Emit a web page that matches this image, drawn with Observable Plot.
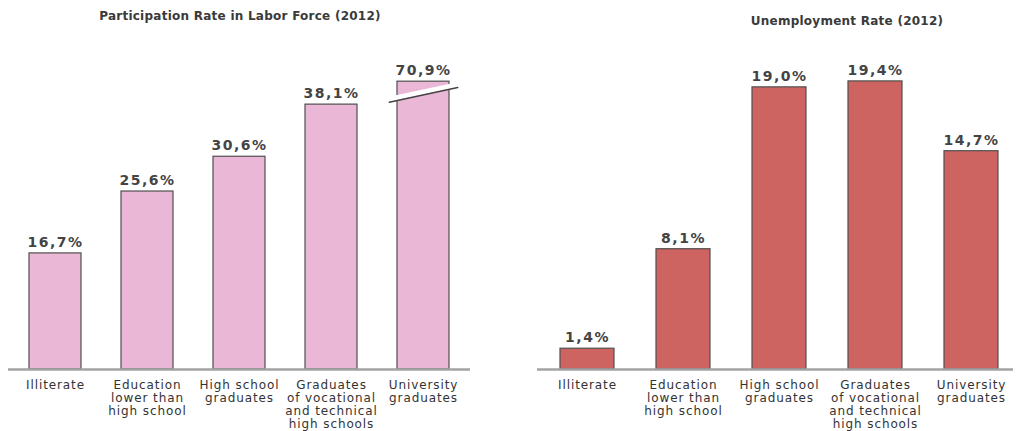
<!DOCTYPE html>
<html>
<head>
<meta charset="utf-8">
<script src="https://cdn.jsdelivr.net/npm/d3@7"></script>
<script src="https://cdn.jsdelivr.net/npm/@observablehq/plot@0.6"></script>
<style>
  body { margin: 0; background: #fff; }
  #wrap { position: relative; width: 1018px; height: 431px; overflow: hidden; }
  .title { position: absolute; text-align: center; font-family: "DejaVu Sans", sans-serif; font-size: 12px; letter-spacing: 0.25px; font-weight: bold; color: #3a3a3a; white-space: nowrap; }
  .chart { position: absolute; top: 30px; }
  .chart g[aria-label="text"] text { letter-spacing: 1.5px; }
  .chart g[aria-label="x-axis tick label"] text { letter-spacing: 0.9px; }
</style>
</head>
<body>
<div id="wrap">
  <div class="title" id="t1" style="left:0px;width:480px;top:9px;">Participation Rate in Labor Force (2012)</div>
  <div class="chart" id="c1" style="left:0px;"></div>
  <div class="title" id="t2" style="left:747px;width:200px;top:14px;">Unemployment Rate (2012)</div>
  <div class="chart" id="c2" style="left:500px;"></div>
</div>
<script>
// ---- data ----
const categories = [
  "Illiterate",
  "Education\nlower than\nhigh school",
  "High school\ngraduates",
  "Graduates\nof vocational\nand technical\nhigh schools",
  "University\ngraduates"
];
const participation = [16.7, 25.6, 30.6, 38.1, 70.9];
const unemployment = [1.4, 8.1, 19.0, 19.4, 14.7];
// the participation axis is broken: bars above this value are cut off
const participationBreak = 41.4;
const participationBreakLine = 39.5;

const fmt = v => v.toFixed(1).replace(".", ",") + "%";

function lineShape() {
  return { draw(context, l) { context.moveTo(0, 0); context.lineTo(0, -l); } };
}

function makeChart({values, cap, breakAt, color, width, marginLeft, marginRight, marginTop, yMax, paddingInner, paddingOuter, align}) {
  const rows = categories.map((c, i) => ({
    category: c,
    value: values[i],
    shown: cap != null ? Math.min(values[i], cap) : values[i]
  }));
  const broken = cap != null ? rows.filter(d => d.value > cap) : [];
  const marks = [
    Plot.barY(rows, {x: "category", y: "shown", fill: color, stroke: "#4f4f4f", strokeWidth: 1.2}),
    Plot.ruleY([0], {stroke: "#a3a3a3", strokeWidth: 2.5}),
    Plot.text(rows, {x: "category", y: "shown", text: d => fmt(d.value), dy: -11,
      fontFamily: "DejaVu Sans", fontSize: 14, fontWeight: "bold", fill: "#444"}),
    Plot.axisX({tickSize: 0, tickPadding: 10, fontSize: 12, fontFamily: "DejaVu Sans",
      lineHeight: 1.08, fill: "#333", label: null})
  ];
  if (broken.length) {
    const shape = lineShape();
    marks.push(
      Plot.vector(broken, {x: "category", y: () => breakAt, length: 70, rotate: 78, anchor: "middle",
        shape, stroke: "white", strokeWidth: 5, dy: -3}),
      Plot.vector(broken, {x: "category", y: () => breakAt, length: 70, rotate: 78, anchor: "middle",
        shape, stroke: "#444", strokeWidth: 1.5, dy: 0})
    );
  }
  return Plot.plot({
    width, height: 401,
    marginLeft, marginRight, marginTop, marginBottom: 62,
    x: {type: "band", domain: categories, paddingInner, paddingOuter, align},
    y: {domain: [0, yMax], axis: null},
    marks
  });
}

document.getElementById("c1").appendChild(makeChart({
  values: participation, cap: participationBreak, breakAt: participationBreakLine,
  color: "#ebb7d6", width: 500, marginLeft: 8, marginRight: 30, marginTop: 47, yMax: 42,
  paddingInner: 0.435, paddingOuter: 0.228, align: 0.5
}));
document.getElementById("c2").appendChild(makeChart({
  values: unemployment, cap: null,
  color: "#cd6461", width: 518, marginLeft: 37, marginRight: 5, marginTop: 42, yMax: 20,
  paddingInner: 0.435, paddingOuter: 0.184, align: 0.6
}));
</script>
</body>
</html>
